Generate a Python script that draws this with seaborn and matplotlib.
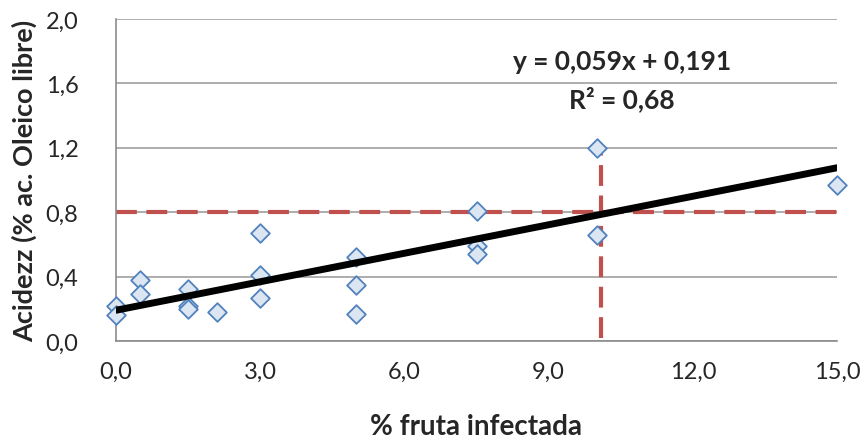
import numpy as np
import pandas as pd
import matplotlib
matplotlib.use("Agg")
import matplotlib.pyplot as plt
import seaborn as sns

# Data
fruta = [0.0, 0.0, 0.5, 0.5, 1.5, 1.5, 1.5, 2.1, 3.0, 3.0, 3.0,
         5.0, 5.0, 5.0, 7.5, 7.5, 7.5, 10.0, 10.0, 15.0]
acidez = [0.22, 0.16, 0.38, 0.29, 0.32, 0.22, 0.20, 0.18, 0.67, 0.41, 0.27,
          0.52, 0.35, 0.17, 0.81, 0.59, 0.54, 1.20, 0.66, 0.97]
slope = 0.059
intercept = 0.191
trend_x = [0.0, 15.0]
ref_y = 0.8
ref_x = 10.1
x_ticks = [0, 3, 6, 9, 12, 15]
y_ticks = [0.0, 0.4, 0.8, 1.2, 1.6, 2.0]

sns.set_theme(style="white")
plt.rcParams['font.family'] = ['Lato', 'DejaVu Sans']

W, H = 868, 439
fig = plt.figure(figsize=(W / 100, H / 100), dpi=100)
ax = fig.add_axes([116 / W, 1 - 342 / H, (837 - 116) / W, (342 - 20) / H])

df = pd.DataFrame({"x": fruta, "y": acidez})
trend = pd.DataFrame({"x": trend_x, "y": [slope * v + intercept for v in trend_x]})

dash = (0, (5, 2.3))
ax.axhline(ref_y, xmin=0.0, xmax=1.007, color="#C0504D", lw=3, ls=dash, zorder=2, clip_on=False)
ax.plot([ref_x, ref_x], [0.02, 1.16], color="#C0504D", lw=3, ls=dash, zorder=2)

sns.scatterplot(data=df, x="x", y="y", marker="D", s=90, color="#DCE6F2",
                edgecolor="#4F81BD", linewidth=1.3, ax=ax, zorder=3, clip_on=False)
sns.lineplot(data=trend, x="x", y="y", color="black", lw=5, ax=ax, zorder=4)

ax.set_xlim(0, 15)
ax.set_ylim(0, 2.0)
ax.set_xticks(x_ticks)
ax.set_yticks(y_ticks)
ax.set_xticklabels([f"{v:.1f}".replace(".", ",") for v in x_ticks], fontsize=17)
ax.set_yticklabels([f"{v:.1f}".replace(".", ",") for v in y_ticks], fontsize=17)
ax.yaxis.grid(True, color="#A0A0A0", lw=1.2)
ax.set_axisbelow(True)
for s in ["top", "right"]:
    ax.spines[s].set_visible(False)
for s in ["left", "bottom"]:
    ax.spines[s].set_color("#8C8C8C")
    ax.spines[s].set_linewidth(1.2)
ax.tick_params(axis="x", direction="out", length=6, width=1.2, color="#8C8C8C", pad=8)
ax.tick_params(axis="y", length=0, pad=27)

ax.set_xlabel("")
ax.set_ylabel("Acidezz (% ac. Oleico libre)", fontsize=19.5, fontweight="bold", labelpad=6)
fig.text(476 / W, 1 - 435 / H, "% fruta infectada", ha="center", va="baseline",
         fontsize=20, fontweight="bold")

fig.text(622 / W, 1 - 70 / H, "y = 0,059x + 0,191", ha="center",
         va="baseline", fontsize=19, fontweight="bold")
fig.text(622 / W, 1 - 108 / H, "R² = 0,68", ha="center",
         va="baseline", fontsize=19, fontweight="bold")

fig.savefig("out.png", dpi=100)
